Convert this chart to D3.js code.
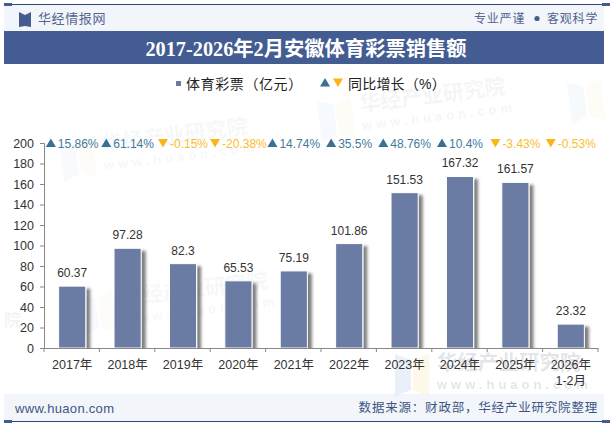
<!DOCTYPE html>
<html>
<head>
<meta charset="utf-8">
<script src="https://cdn.jsdelivr.net/npm/d3@7"></script>
<style>
html,body{margin:0;padding:0;background:#fff}
svg{display:block}
text{font-family:"Liberation Sans","Noto Sans CJK SC",sans-serif}
</style>
</head>
<body>
<svg id="chart" width="615" height="427"></svg>
<script>
const categories = ["2017年","2018年","2019年","2020年","2021年","2022年","2023年","2024年","2025年","2026年\n1-2月"];
const salesValues = [60.37,97.28,82.3,65.53,75.19,101.86,151.53,167.32,161.57,23.32];
const growthValues = [15.86,61.14,-0.15,-20.38,14.74,35.5,48.76,10.4,-3.43,-0.53];
const yTicks = [0,20,40,60,80,100,120,140,160,180,200];
const titleText = "2017-2026年2月安徽体育彩票销售额";

const navy = "#2f4778", band = "#435c91", pale = "#f2f5fa";
const barColor = "#6a7ba3", upColor = "#3a7094", downColor = "#fdb515";
const upText = "#437a9b", downText = "#fbbd30";

const svg = d3.select("#chart");
const defs = svg.append("defs");

const shadow = defs.append("filter").attr("id","barShadow")
  .attr("x","-30%").attr("y","-10%").attr("width","170%").attr("height","130%");
shadow.append("feDropShadow").attr("dx",4).attr("dy",3).attr("stdDeviation",1.5)
  .attr("flood-color","#000").attr("flood-opacity",0.5);

const x = d3.scaleBand().domain(categories).range([44,598]).paddingInner(0.51).paddingOuter(0.255);
const y = d3.scaleLinear().domain([0,200]).range([348,143]);

defs.append("clipPath").attr("id","plotClip").append("rect")
  .attr("x",44).attr("y",120).attr("width",570).attr("height",228);

// Page furniture: header strip, title band, footer strip, rules
svg.append("rect").attr("x",4).attr("y",5).attr("width",600).attr("height",26).attr("fill",pale);
svg.append("rect").attr("x",4).attr("y",31).attr("width",600).attr("height",33).attr("fill",band);
svg.append("rect").attr("x",4).attr("y",394).attr("width",600).attr("height",27).attr("fill",pale);
[[4,601,4],[4,601,421]].forEach(([x0,w,yy]) =>
  svg.append("rect").attr("x",x0).attr("y",yy).attr("width",w).attr("height",1).attr("fill",navy));
[[4,3],[602,3],[4,420],[602,420]].forEach(([x0,yy]) =>
  svg.append("rect").attr("x",x0).attr("y",yy).attr("width",8).attr("height",3).attr("fill",band));

// Faint brand marks behind the plot
function brandLogo(g){
  g.append("path").attr("d","M-70,-14L-54,-8V22L-70,28Z").attr("fill","#a9c4ea");
  g.append("path").attr("d","M-52,-8L-36,-14V28L-52,22Z").attr("fill","#fbe3a6");
}
function brandMark(cx, cy, angle, opacity, size){
  const g = svg.append("g").attr("transform",`translate(${cx},${cy}) rotate(${angle})`).attr("opacity",opacity);
  brandLogo(g);
  g.append("text").attr("x",-28).attr("y",2).attr("font-size",size).attr("font-weight",700)
    .attr("fill","#8d97a6").text("华经产业研究院");
  g.append("text").attr("x",-28).attr("y",21).attr("font-size",13).attr("font-weight",700)
    .attr("letter-spacing",4).attr("fill","#8d97a6").text("www.huaon.com");
}
brandMark(130,146,-7,0.07,21);
brandMark(388,106,-7,0.09,21);
brandMark(150,300,-7,0.07,21);
brandMark(465,368,0,0.24,20.5);
svg.append("g").attr("transform","translate(638,88) rotate(-7)").attr("opacity",0.08).call(brandLogo);
svg.append("text").attr("x",4).attr("y",326).attr("font-size",17).attr("font-weight",700)
  .attr("fill","#8d97a6").attr("opacity",0.1).text("院");

// Bars
svg.append("g").attr("clip-path","url(#plotClip)").attr("transform","translate(0.5,0)")
  .selectAll("rect").data(salesValues).join("rect")
  .attr("x",(d,i)=>x(categories[i]))
  .attr("y",d=>y(d))
  .attr("width",x.bandwidth())
  .attr("height",d=>y(0)-y(d))
  .attr("fill",barColor)
  .attr("stroke","#fff").attr("stroke-width",1)
  .attr("filter","url(#barShadow)");

// Axes
const yAxis = svg.append("g").attr("transform","translate(44,0)")
  .call(d3.axisLeft(y).tickValues(yTicks).tickSize(4).tickPadding(6));
const xAxis = svg.append("g").attr("transform","translate(0,348)")
  .call(d3.axisBottom(x).tickSize(0).tickFormat(""));
const tickEdges = categories.map(c => x(c)-x.step()*x.paddingInner()/2).concat(598);
xAxis.selectAll("line.edge").data(tickEdges).join("line").attr("class","edge")
  .attr("x1",d=>d).attr("x2",d=>d).attr("y1",0).attr("y2",4).attr("stroke","#888");
[yAxis,xAxis].forEach(a=>{
  a.selectAll(".domain").attr("stroke","#888").attr("stroke-width",1);
  a.selectAll(".tick line").attr("stroke","#888");
  a.selectAll("text").attr("fill","#333");
});
yAxis.selectAll(".tick text").attr("font-size",12.5);

// Category labels (second line for the partial year)
svg.append("g").selectAll("text").data(categories).join("text")
  .attr("x",c=>x(c)+x.bandwidth()/2+0.5)
  .attr("y",369)
  .attr("text-anchor","middle").attr("font-size",12.5).attr("fill","#333")
  .each(function(c){
    c.split("\n").forEach((part,i)=>{
      d3.select(this).append("tspan").attr("x",x(c)+x.bandwidth()/2+0.5).attr("dy",i?16:0).text(part);
    });
  });

// Value labels above bars
svg.append("g").selectAll("text").data(salesValues).join("text")
  .attr("x",(d,i)=>x(categories[i])+x.bandwidth()/2+0.5)
  .attr("y",d=>y(d)-9)
  .attr("text-anchor","middle").attr("font-size",12).attr("fill","#333")
  .text(d=>d);

// Year-on-year row along the top of the plot
const triangle = up => up ? "M-5,4L0,-4.5L5,4Z" : "M-5,-4L5,-4L0,4.5Z";
const growthRow = svg.append("g");
growthValues.forEach((v,i)=>{
  const up = v >= 0;
  const cx = x(categories[i]) + x.bandwidth()/2 + 0.5;
  const g = growthRow.append("g");
  const t = g.append("text").attr("y",147.5).attr("font-size",12)
    .attr("fill", up ? upText : downText).text(v + "%");
  const w = t.node().getComputedTextLength();
  const left = cx - (w + 12)/2;
  g.append("path").attr("d",triangle(up)).attr("transform",`translate(${left+5},143)`)
    .attr("fill", up ? upColor : downColor);
  t.attr("x",left+12);
});

// Header text
svg.append("path").attr("d","M19,12L25,15V26L19,27Z M31,12L25,15V26L31,27Z").attr("fill",band);
svg.append("text").attr("x",38).attr("y",23).attr("font-size",13).attr("letter-spacing",0.6)
  .attr("fill","#52668e").text("华经情报网");
svg.append("text").attr("x",547).attr("y",23).attr("font-size",12).attr("letter-spacing",0.8)
  .attr("fill","#52668e").text("客观科学");
svg.append("text").attr("x",474).attr("y",23).attr("font-size",12).attr("letter-spacing",0.8)
  .attr("fill","#52668e").text("专业严谨");
svg.append("circle").attr("cx",537).attr("cy",18.5).attr("r",2.6).attr("fill",band);

// Title
svg.append("text").attr("x",306).attr("y",56).attr("text-anchor","middle")
  .style("font-family",'"Liberation Serif","Noto Sans CJK SC",serif')
  .attr("font-size",20.3).attr("font-weight",700).attr("fill","#fff").text(titleText);

// Legend
svg.append("rect").attr("x",176).attr("y",81).attr("width",5).attr("height",5).attr("fill",barColor);
svg.append("text").attr("x",186).attr("y",89).attr("font-size",14).attr("letter-spacing",0.6)
  .attr("fill","#222").text("体育彩票（亿元）");
svg.append("path").attr("d",triangle(true)).attr("transform","translate(325,82.5)").attr("fill",upColor);
svg.append("path").attr("d",triangle(false)).attr("transform","translate(338,82.5)").attr("fill",downColor);
svg.append("text").attr("x",348).attr("y",89).attr("font-size",14).attr("letter-spacing",0.2)
  .attr("fill","#222").text("同比增长（%）");

// Footer
svg.append("text").attr("x",15).attr("y",413).attr("font-size",13)
  .attr("letter-spacing",0.3).attr("fill","#3f5684").text("www.huaon.com");
svg.append("text").attr("x",598).attr("y",412).attr("text-anchor","end").attr("font-size",12.5)
  .attr("letter-spacing",0.8).attr("fill","#3f5684").text("数据来源：财政部，华经产业研究院整理");
</script>
</body>
</html>
